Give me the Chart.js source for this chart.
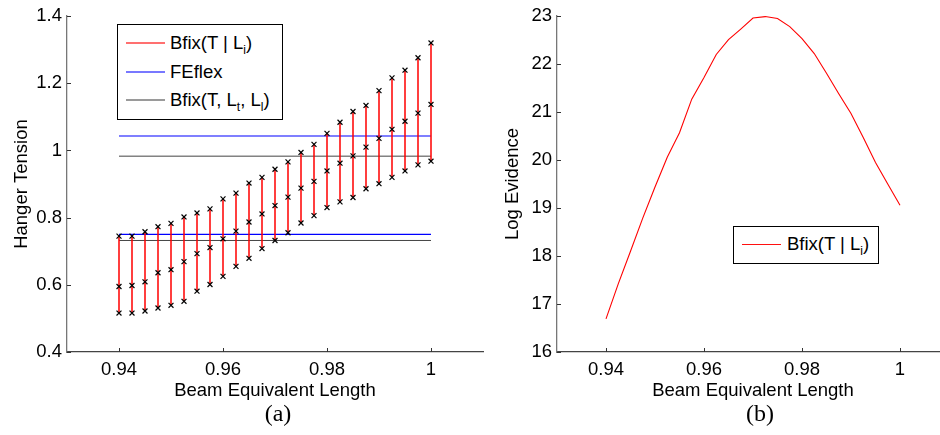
<!DOCTYPE html>
<html>
<head>
<meta charset="utf-8">
<script src="https://cdn.jsdelivr.net/npm/chart.js@4/dist/chart.umd.min.js"></script>
<style>
    html, body { margin: 0; padding: 0; background: #fff; overflow: hidden; }
    body { width: 940px; height: 435px; position: relative; font-family: "Liberation Sans", Arial, sans-serif; }
    canvas { position: absolute; top: 0; }
    .legend { position: absolute; background: #fff; border: 1px solid #000; box-sizing: border-box; }
    .row { position: absolute; left: 0; height: 24px; width: 100%; }
    .sample { position: absolute; height: 2px; }
    .label { position: absolute; font-size: 18.5px; line-height: 22px; color: #000; white-space: nowrap; }
    .label sub { font-size: 12px; vertical-align: -5px; line-height: 0; }
    .caption { position: absolute; font-family: "Liberation Serif", "Times New Roman", serif; font-size: 24px; top: 400px; width: 60px; text-align: center; }
</style>
</head>
<body>
<canvas id="leftChart" width="490" height="435" style="left:0"></canvas>
<canvas id="rightChart" width="470" height="435" style="left:490px"></canvas>

<div class="legend" style="left:117px; top:24px; width:166px; height:96px">
    <div class="row" style="top:7px"><div class="sample" style="left:8px; width:39px; top:10px; background:#ff7070"></div><div class="label" style="left:52px; top:0">Bfix(T | L<sub>i</sub>)</div></div>
    <div class="row" style="top:36px"><div class="sample" style="left:8px; width:39px; top:10px; background:#7878ff"></div><div class="label" style="left:52px; top:0">FEflex</div></div>
    <div class="row" style="top:64px"><div class="sample" style="left:8px; width:39px; top:10px; background:#9a9a9a"></div><div class="label" style="left:52px; top:0">Bfix(T, L<sub>t</sub>, L<sub>l</sub>)</div></div>
</div>
<div class="legend" style="left:733px; top:226px; width:146px; height:38px">
    <div class="row" style="top:6px"><div class="sample" style="left:8px; width:39px; top:11px; height:1px; background:#ff1010"></div><div class="label" style="left:53px; top:0">Bfix(T | L<sub>i</sub>)</div></div>
</div>
<div class="caption" style="left:248px">(a)</div>
<div class="caption" style="left:730px">(b)</div>

<script>
// beam equivalent length samples
const lengths = [0.94, 0.9425, 0.945, 0.9475, 0.95, 0.9525, 0.955, 0.9575, 0.96, 0.9625,
                 0.965, 0.9675, 0.97, 0.9725, 0.975, 0.9775, 0.98, 0.9825, 0.985, 0.9875,
                 0.99, 0.9925, 0.995, 0.9975, 1.0];

// hanger tension estimates (upper / middle / lower)
const tensionTop = [0.745, 0.745, 0.758, 0.773, 0.783, 0.802, 0.814, 0.826, 0.856, 0.873,
                    0.903, 0.920, 0.944, 0.966, 0.994, 1.018, 1.051, 1.084, 1.116, 1.134,
                    1.178, 1.216, 1.239, 1.276, 1.320];
const tensionMid = [0.595, 0.598, 0.609, 0.636, 0.645, 0.669, 0.693, 0.711, 0.737, 0.760,
                    0.787, 0.811, 0.836, 0.861, 0.888, 0.908, 0.939, 0.962, 0.984, 1.010,
                    1.036, 1.063, 1.087, 1.111, 1.137];
const tensionLow = [0.516, 0.516, 0.522, 0.531, 0.539, 0.551, 0.581, 0.601, 0.625, 0.655,
                    0.679, 0.708, 0.732, 0.755, 0.784, 0.806, 0.830, 0.847, 0.860, 0.886,
                    0.901, 0.920, 0.939, 0.957, 0.968];

// reference tensions (two hangers each)
const feflexLevels = [1.043, 0.750];
const bfixFullLevels = [0.983, 0.732];

// log evidence
const logEvidence = [16.69, 17.42, 18.10, 18.79, 19.44, 20.06, 20.57, 21.27, 21.72, 22.20,
                     22.51, 22.73, 22.96, 22.99, 22.95, 22.78, 22.53, 22.22, 21.81, 21.38,
                     20.97, 20.47, 19.95, 19.50, 19.06];

const xTicks = [0.94, 0.96, 0.98, 1];
const yTicksLeft = [0.4, 0.6, 0.8, 1, 1.2, 1.4];
const yTicksRight = [16, 17, 18, 19, 20, 21, 22, 23];

const FONT = { family: '"Liberation Sans", Arial, sans-serif', size: 18.5 };

// segments separated by null points so one dataset draws many lines
function errorSegments() {
    const pts = [];
    lengths.forEach((x, i) => {
        pts.push({ x: x, y: tensionLow[i] }, { x: x, y: tensionTop[i] }, { x: x, y: null });
    });
    return pts;
}

function levelSegments(levels) {
    const pts = [];
    const x0 = lengths[0], x1 = lengths[lengths.length - 1];
    levels.forEach(v => pts.push({ x: x0, y: v }, { x: x1, y: v }, { x: x1, y: null }));
    return pts;
}

function markerPoints() {
    const pts = [];
    lengths.forEach((x, i) => {
        pts.push({ x: x, y: tensionTop[i] }, { x: x, y: tensionMid[i] }, { x: x, y: tensionLow[i] });
    });
    return pts;
}

// small inward tick marks like matlab
const innerTicks = {
    id: 'innerTicks',
    afterDraw(chart) {
        const { ctx, chartArea, scales } = chart;
        ctx.save();
        ctx.strokeStyle = '#333';
        ctx.lineWidth = 1;
        ctx.beginPath();
        xTicks.forEach(v => {
            const px = Math.round(scales.x.getPixelForValue(v)) + 0.5;
            ctx.moveTo(px, chartArea.bottom);
            ctx.lineTo(px, chartArea.bottom - 4);
        });
        scales.y.ticks.forEach(t => {
            const py = Math.round(scales.y.getPixelForValue(t.value)) + 0.5;
            ctx.moveTo(chartArea.left, py);
            ctx.lineTo(chartArea.left + 4, py);
        });
        ctx.stroke();
        ctx.restore();
    }
};

function axisOptions(yMin, yMax, yTicks, yTitle, yTitlePad) {
    return {
        x: {
            type: 'linear',
            min: 0.93,
            max: 1.01,
            afterBuildTicks: s => { s.ticks = xTicks.map(v => ({ value: v })); },
            afterFit: s => { s.height = 83; },
            grid: { display: false, drawTicks: false },
            border: { display: true, color: '#444', width: 1.3 },
            ticks: { font: FONT, color: '#000', padding: 7, maxRotation: 0,
                     callback: v => String(+v.toFixed(2)) },
            title: { display: true, text: 'Beam Equivalent Length', font: FONT, color: '#000',
                     padding: { top: 0, bottom: 33 } }
        },
        y: {
            type: 'linear',
            min: yMin,
            max: yMax,
            afterBuildTicks: s => { s.ticks = yTicks.map(v => ({ value: v })); },
            afterFit: s => { s.width = 67; },
            grid: { display: false, drawTicks: false },
            border: { display: true, color: '#777', width: 1.3 },
            ticks: { font: FONT, color: '#000', padding: 5,
                     callback: v => String(+v.toFixed(2)) },
            title: { display: true, text: yTitle, font: FONT, color: '#000',
                     padding: { top: yTitlePad, bottom: 0 } }
        }
    };
}

new Chart(document.getElementById('leftChart'), {
    type: 'line',
    data: {
        datasets: [
            {
                label: 'markers',
                data: markerPoints(),
                showLine: false,
                pointStyle: 'crossRot',
                pointRadius: 3.5,
                pointBorderWidth: 1.2,
                pointBorderColor: '#000',
                pointBackgroundColor: '#000'
            },
            {
                label: 'Bfix(T | L_i)',
                data: errorSegments(),
                borderColor: '#ff0000',
                borderWidth: 1.5,
                pointRadius: 0,
                spanGaps: false
            },
            {
                label: 'FEflex',
                data: levelSegments(feflexLevels),
                borderColor: '#0000ff',
                borderWidth: 1.2,
                pointRadius: 0,
                spanGaps: false
            },
            {
                label: 'Bfix(T, L_t, L_l)',
                data: levelSegments(bfixFullLevels),
                borderColor: '#444',
                borderWidth: 1,
                pointRadius: 0,
                spanGaps: false
            }
        ]
    },
    options: {
        responsive: false,
        animation: false,
        devicePixelRatio: 1,
        layout: { padding: { top: 12.5, right: 7, left: 0, bottom: 0 } },
        plugins: { legend: { display: false }, tooltip: { enabled: false } },
        scales: axisOptions(0.4, 1.4, yTicksLeft, 'Hanger Tension', 11)
    },
    plugins: [innerTicks]
});

new Chart(document.getElementById('rightChart'), {
    type: 'line',
    data: {
        datasets: [{
            label: 'Bfix(T | L_i)',
            data: lengths.map((x, i) => ({ x: x, y: logEvidence[i] })),
            borderColor: '#ff0000',
            borderWidth: 1.1,
            pointRadius: 0,
            tension: 0
        }]
    },
    options: {
        responsive: false,
        animation: false,
        devicePixelRatio: 1,
        layout: { padding: { top: 12, right: 11, left: 0, bottom: 0 } },
        plugins: { legend: { display: false }, tooltip: { enabled: false } },
        scales: axisOptions(16, 23, yTicksRight, 'Log Evidence', 11.5)
    },
    plugins: [innerTicks]
});
</script>
</body>
</html>
